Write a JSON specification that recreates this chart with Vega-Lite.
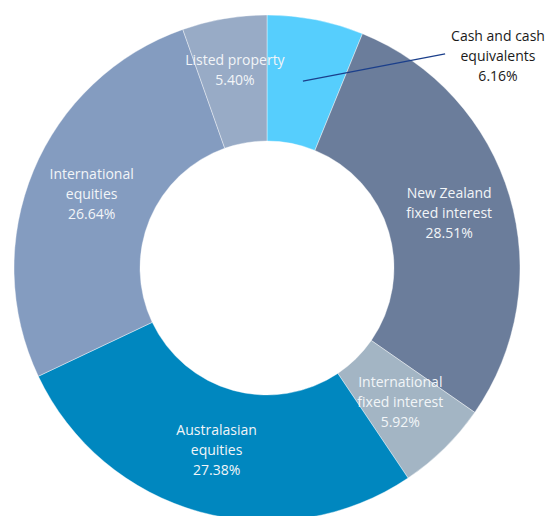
{
  "$schema": "https://vega.github.io/schema/vega-lite/v6.json",
  "width": 534,
  "height": 536,
  "autosize": "none",
  "padding": {"left": 0, "top": 0, "right": 21, "bottom": 0},
  "background": "white",
  "config": {"view": {"stroke": null}},
  "layer": [
    {
      "data": {
        "values": [
          {"idx": 1, "name": "Cash and cash equivalents", "value": 6.16, "label": ["Cash and cash", "equivalents", "6.16%"]},
          {"idx": 2, "name": "New Zealand fixed interest", "value": 28.51, "label": ["New Zealand", "fixed interest", "28.51%"]},
          {"idx": 3, "name": "International fixed interest", "value": 5.92, "label": ["International", "fixed interest", "5.92%"]},
          {"idx": 4, "name": "Australasian equities", "value": 27.38, "label": ["Australasian", "equities", "27.38%"]},
          {"idx": 5, "name": "International equities", "value": 26.64, "label": ["International", "equities", "26.64%"]},
          {"idx": 6, "name": "Listed property", "value": 5.40, "label": ["Listed property", "5.40%"]}
        ]
      },
      "layer": [
        {
          "mark": {"type": "arc", "outerRadius": 253, "innerRadius": 127, "stroke": "#ffffff", "strokeWidth": 0.4},
          "encoding": {
            "theta": {"field": "value", "type": "quantitative", "stack": true},
            "order": {"field": "idx", "type": "quantitative"},
            "color": {
              "field": "name",
              "type": "nominal",
              "legend": null,
              "scale": {
                "domain": ["Cash and cash equivalents", "New Zealand fixed interest", "International fixed interest", "Australasian equities", "International equities", "Listed property"],
                "range": ["#56CEFD", "#6B7D9B", "#A3B5C4", "#0087BF", "#849CC0", "#98ABC6"]
              }
            }
          }
        },
        {
          "mark": {"type": "text", "radius": 190, "dy": -20, "font": "Open Sans", "fontSize": 14, "lineHeight": 20, "color": "#F2F5F8", "align": "center", "baseline": "middle"},
          "encoding": {
            "theta": {"field": "value", "type": "quantitative", "stack": true},
            "order": {"field": "idx", "type": "quantitative"},
            "text": {"field": "label"},
            "opacity": {"condition": {"test": "datum.idx === 1", "value": 0}, "value": 1}
          }
        }
      ]
    },
    {
      "data": {"values": [{"x": 0.142, "y": 0.739}, {"x": 0.704, "y": 0.846}]},
      "mark": {"type": "line", "color": "#1B3F8B", "strokeWidth": 1.3},
      "encoding": {
        "x": {"field": "x", "type": "quantitative", "scale": {"domain": [-1.0553, 1.0553], "nice": false, "zero": false}, "axis": null},
        "y": {"field": "y", "type": "quantitative", "scale": {"domain": [-1.0593, 1.0593], "nice": false, "zero": false}, "axis": null}
      }
    },
    {
      "data": {"values": [{"x": 0.913, "y": 0.834, "label": ["Cash and cash", "equivalents", "6.16%"]}]},
      "mark": {"type": "text", "dy": -20, "font": "Open Sans", "fontSize": 14, "lineHeight": 20, "color": "#1A1A1A", "align": "center", "baseline": "middle"},
      "encoding": {
        "x": {"field": "x", "type": "quantitative", "scale": {"domain": [-1.0553, 1.0553], "nice": false, "zero": false}, "axis": null},
        "y": {"field": "y", "type": "quantitative", "scale": {"domain": [-1.0593, 1.0593], "nice": false, "zero": false}, "axis": null},
        "text": {"field": "label"}
      }
    }
  ]
}
